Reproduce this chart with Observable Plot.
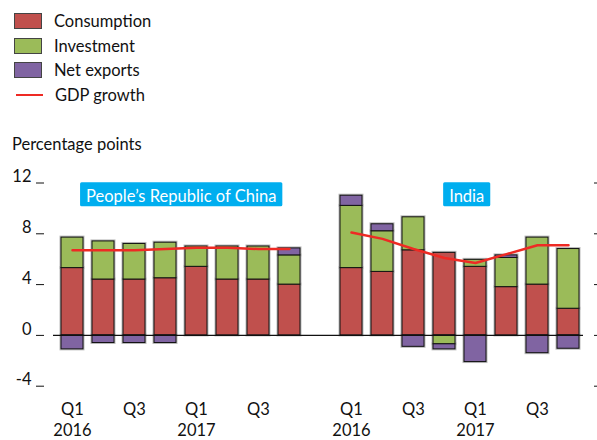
<!DOCTYPE html>
<html>
<head>
<meta charset="utf-8">
<script src="https://cdn.jsdelivr.net/npm/d3@7"></script>
<script src="https://cdn.jsdelivr.net/npm/@observablehq/plot@0.6"></script>
<style>
  html, body { margin: 0; padding: 0; background: #fff; }
  #wrap { position: relative; width: 597px; height: 440px; font-family: Lato, "Open Sans", sans-serif; color: #111; }
  #chart { position: absolute; left: 0; top: 0; }
  .leg { position: absolute; left: 0; top: 0; font-size: 16.5px; }
  .row { position: absolute; left: 14px; height: 16px; display: flex; align-items: center; white-space: nowrap; }
  .sw { width: 26px; height: 14px; border: 1px solid #444; box-sizing: content-box; margin-right: 12px; }
  .ln { width: 27px; height: 2.5px; margin: 0 12px 0 2px; }
  #ylab { position: absolute; left: 12px; top: 134px; font-size: 16.5px; white-space: nowrap; }
</style>
</head>
<body>
<div id="wrap">
  <div id="chart"></div>
  <div class="leg" id="legend"></div>
  <div id="ylab"></div>
</div>
<script>
// ---- data ----
const countries = ["People\u2019s Republic of China", "India"];
const quarters = ["Q1 2016", "Q2 2016", "Q3 2016", "Q4 2016", "Q1 2017", "Q2 2017", "Q3 2017", "Q4 2017"];
const tickLabels = ["Q1\n2016", "", "Q3", "", "Q1\n2017", "", "Q3", ""];
const components = ["Consumption", "Investment", "Net exports"];
const componentColors = ["#C0504D", "#9BBB59", "#8064A2"];
const gdpLabel = "GDP growth";
const gdpColor = "#EE2A24";
const yTicks = [-4, 0, 4, 8, 12];
const yLabel = "Percentage points";

const chinaConsumption = [5.3, 4.4, 4.4, 4.5, 5.4, 4.4, 4.4, 4.0];
const chinaInvestment  = [2.4, 3.0, 2.8, 2.8, 1.6, 2.6, 2.6, 2.3];
const chinaNetExports  = [-1.1, -0.6, -0.6, -0.6, 0, 0, 0, 0.55];
const chinaGDP         = [6.7, 6.7, 6.7, 6.8, 6.9, 6.9, 6.8, 6.8];

const indiaConsumption = [5.3, 5.0, 6.7, 6.5, 5.4, 3.8, 4.0, 2.1];
const indiaInvestment  = [4.9, 3.2, 2.6, -0.7, 0.55, 2.3, 3.7, 4.7];
const indiaNetExports  = [0.8, 0.55, -0.9, -0.4, -2.1, 0.2, -1.4, -1.05];
const indiaGDP         = [8.1, 7.6, 6.8, 6.1, 5.7, 6.4, 7.1, 7.1];

// ---- build tables ----
const series = [
  {country: countries[0], comp: [chinaConsumption, chinaInvestment, chinaNetExports], gdp: chinaGDP},
  {country: countries[1], comp: [indiaConsumption, indiaInvestment, indiaNetExports], gdp: indiaGDP}
];
const key = (c, q) => c + "|" + q;
const gapKey = "gap";
const domainX = [
  ...quarters.map(q => key(countries[0], q)),
  gapKey,
  ...quarters.map(q => key(countries[1], q))
];
const bars = [];
const gdp = [];
const ticks = [];
for (const s of series) {
  quarters.forEach((q, i) => {
    components.forEach((c, j) => bars.push({x: key(s.country, q), component: c, value: s.comp[j][i]}));
    gdp.push({x: key(s.country, q), country: s.country, value: s.gdp[i]});
    ticks.push({x: key(s.country, q), label: tickLabels[i]});
  });
}
const labelOffsets = [15.7, 22.2];

const FONT = "Lato, 'Open Sans', sans-serif";

const plot = Plot.plot({
  width: 597,
  height: 440,
  marginLeft: 44,
  marginRight: 4,
  marginTop: 182.5,
  marginBottom: 54.3,
  style: {fontFamily: FONT, fontSize: "16px", color: "#111", background: "transparent"},
  x: {type: "band", domain: domainX, range: [55.4, 584.4], paddingInner: 0.3, paddingOuter: 0.15, axis: null},
  y: {domain: [-4, 12]},
  color: {domain: components, range: componentColors},
  marks: [
    Plot.axisY({anchor: "left", ticks: yTicks, tickSize: 8, tickFormat: () => "", label: null, stroke: "#111"}),
    Plot.axisY({anchor: "left", ticks: yTicks, tickSize: 0, tickPadding: 13, dy: -6, tickFormat: d => String(d), label: null, fontSize: 16.5, fill: "#111"}),
    Plot.axisY({anchor: "right", ticks: yTicks, tickSize: 4, tickFormat: () => "", label: null}),
    Plot.barY(bars, {x: "x", y: "value", fill: "none", stroke: "#bbb", strokeWidth: 3}),
    Plot.barY(bars, {x: "x", y: "value", fill: "component", stroke: "#111", strokeWidth: 1}),
    Plot.ruleY([0], {stroke: "#111", strokeWidth: 1.2, insetLeft: 9, insetRight: 10}),
    Plot.line(gdp, {x: "x", y: "value", z: "country", stroke: gdpColor, strokeWidth: 2.5}),
    Plot.text(ticks, {x: "x", text: "label", frameAnchor: "bottom", lineAnchor: "top", dy: 14, lineHeight: 1.27, fontSize: 16.5, fill: "#111"}),
    ...countries.map((c, i) => Plot.text([c], {
      x: () => key(c, quarters[3]), text: d => d, frameAnchor: "top", dy: 7.5, dx: labelOffsets[i],
      fill: "#fff", fontSize: 16.5, className: "clabel"
    }))
  ]
});
document.getElementById("chart").appendChild(plot);

// boxes behind country labels
d3.select(plot).selectAll(".clabel text").each(function() {
  const bb = this.getBBox();
  const padX = 6;
  d3.select(this.parentNode).insert("rect", () => this)
    .attr("transform", this.getAttribute("transform"))
    .attr("x", bb.x - padX).attr("y", bb.y - 4)
    .attr("width", bb.width + 2 * padX).attr("height", bb.height + 4)
    .attr("rx", 1.5)
    .attr("fill", "#00AEEF");
});

// legend
const legend = document.getElementById("legend");
const rowTops = [13, 37.5, 62, 87];
components.forEach((c, i) => {
  const r = document.createElement("div");
  r.className = "row";
  r.style.top = rowTops[i] + "px";
  r.innerHTML = `<div class="sw" style="background:${componentColors[i]}"></div><span>${c}</span>`;
  legend.appendChild(r);
});
{
  const r = document.createElement("div");
  r.className = "row";
  r.style.top = rowTops[3] + "px";
  r.innerHTML = `<div class="ln" style="background:${gdpColor}"></div><span>${gdpLabel}</span>`;
  legend.appendChild(r);
}
document.getElementById("ylab").textContent = yLabel;
</script>
</body>
</html>
